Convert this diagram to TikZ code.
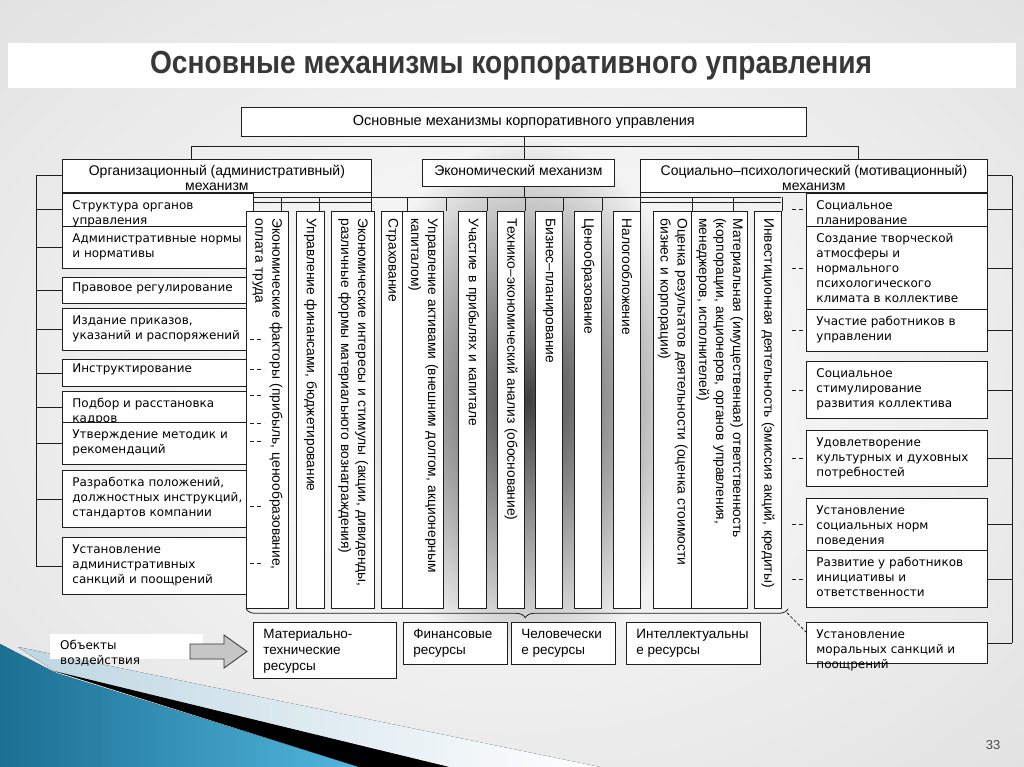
\documentclass[tikz,border=0pt]{standalone}
\usepackage{fontspec}
\usetikzlibrary{calc,decorations.pathreplacing,fadings}
\newfontfamily\dv{DejaVu Sans}
\newfontfamily\ls{Liberation Sans}
\newfontfamily\tf[FakeStretch=0.88]{Liberation Sans}
\definecolor{ln}{HTML}{1E1E1E}
\definecolor{tealA}{HTML}{1B6F92}
\definecolor{tealB}{HTML}{52B6DE}
\definecolor{paleB}{HTML}{BDD6E2}
\definecolor{titlec}{HTML}{383838}
\tikzfading[name=softblob, inner color=transparent!0, outer color=transparent!100]
\newcommand\fL{\dv\fontsize{12}{15}\selectfont}
\newcommand\fM{\ls\fontsize{14}{15}\selectfont}
\newcommand\fT{\ls\fontsize{14.5}{16}\selectfont}
\newcommand\fC{\ls\fontsize{13.8}{17}\selectfont}
\newcommand\fB{\ls\fontsize{13.5}{16}\selectfont}
\newcommand\Lp[1][6pt]{\vspace*{#1}\leftskip=10pt\rightskip=0pt plus 1fill\parindent=0pt\strut}
\newcommand\Cp[1][6pt]{\vspace*{#1}\centering\strut}
\newcommand\bx[7]{\node[bxs,font=#6] (#1) at (#2,#3) {\parbox[t][#5pt][t]{#4pt}{#7}};}
\newcommand\col[4]{\node[colst, minimum height=#3pt] (#1) at (#2,211) {#4};}
\pgfdeclarelayer{back}
\pgfdeclarelayer{conn}
\pgfsetlayers{back,conn,main}
\tikzset{
  bxs/.style={draw=ln, line width=0.8pt, fill=white, inner sep=0pt, anchor=north west},
  colst/.style={draw=ln, line width=0.8pt, fill=white, rotate=-90, anchor=north west,
    inner xsep=7pt, inner ysep=0pt, align=left, text width=383pt, font=\fC},
  conn/.style={draw=ln, line width=0.8pt},
  dmark/.style={draw=ln, line width=0.8pt, dash pattern=on 4pt off 3pt},
}
\begin{document}
\begin{tikzpicture}[x=1pt, y=-1pt]
\useasboundingbox (0,0) rectangle (1024,767);

% ---------- title ----------
\fill[white] (8,43) rectangle (1016,88);
\node[font=\tf\bfseries\fontsize{32}{36}\selectfont, text=titlec] (title) at (511,66)
  {Основные механизмы корпоративного управления};

% ---------- top boxes ----------
\bx{T0}{241}{107}{565}{29}{\fT}{\Cp[7pt]Основные механизмы корпоративного управления}
\bx{M1}{62}{159}{309}{33}{\fM}{\Cp[6pt]Организационный (административный)\\механизм}
\bx{M2}{422}{159}{192}{27}{\fM}{\Cp[6pt]Экономический механизм}
\bx{M3}{640}{159}{347}{33}{\fM}{\Cp[6pt]Социально–психологический (мотивационный)\\механизм}

% ---------- left boxes ----------
\bx{L1}{62}{193}{191}{33}{\fL}{\Lp Структура органов\\управления}
\bx{L2}{62}{226}{191}{42}{\fL}{\Lp Административные нормы\\и нормативы}
\bx{L3}{62}{277}{191}{26}{\fL}{\Lp[4pt]Правовое регулирование}
\bx{L4}{62}{308}{191}{42}{\fL}{\Lp Издание приказов,\\указаний и распоряжений}
\bx{L5}{62}{359}{191}{27}{\fL}{\Lp[3pt]Инструктирование}
\bx{L6}{62}{391}{191}{31}{\fL}{\Lp Подбор и расстановка\\кадров}
\bx{L7}{62}{422}{191}{42}{\fL}{\Lp Утверждение методик и\\рекомендаций}
\bx{L8}{62}{470}{191}{57}{\fL}{\Lp Разработка положений,\\должностных инструкций,\\стандартов компании}
\bx{L9}{62}{537}{191}{57}{\fL}{\Lp Установление\\административных\\санкций и поощрений}

% ---------- right boxes ----------
\bx{R1}{806}{193}{181}{33}{\fL}{\Lp Социальное\\планирование}
\bx{R2}{806}{226}{181}{83}{\fL}{\Lp Создание творческой\\атмосферы и\\нормального\\психологического\\климата в коллективе}
\bx{R3}{806}{309}{181}{42}{\fL}{\Lp Участие работников в\\управлении}
\bx{R4}{806}{361}{181}{57}{\fL}{\Lp Социальное\\стимулирование\\развития коллектива}
\bx{R5}{806}{430}{181}{56}{\fL}{\Lp Удовлетворение\\культурных и духовных\\потребностей}
\bx{R6}{806}{498}{181}{52}{\fL}{\Lp Установление\\социальных норм\\поведения}
\bx{R7}{806}{550}{181}{57}{\fL}{\Lp Развитие у работников\\инициативы и\\ответственности}
\bx{R8}{806}{622}{181}{41}{\fL}{\Lp Установление\\моральных санкций и\\поощрений}

% ---------- vertical columns ----------
\col{C1}{289}{42}{Экономические факторы (прибыль, ценообразование,\\оплата труда}
\col{C2}{325}{28}{Управление финансами, бюджетирование}
\col{C3}{375}{43}{Экономические интересы и стимулы (акции, дивиденды,\\различные формы материального вознаграждения)}
\col{C4}{403}{21}{Страхование}
\col{C5}{444}{41}{Управление активами (внешним долгом, акционерным\\капиталом)}
\col{C6}{487}{28}{Участие в прибылях и капитале}
\col{C7}{525}{27}{Технико–экономический анализ (обоснование)}
\col{C8}{563}{27}{Бизнес–планирование}
\col{C9}{602}{27}{Ценообразование}
\col{C10}{641}{27}{Налогообложение}
\col{C11}{692}{38}{Оценка результатов деятельности (оценка стоимости\\бизнес и корпорации)}
\col{C12}{748}{56}{Материальная (имущественная) ответственность\\(корпорации, акционеров, органов управления,\\менеджеров, исполнителей)}
\col{C13}{782}{27}{Инвестиционная деятельность (эмиссия акций, кредиты)}

% ---------- resources ----------
\bx{B1}{253}{622}{143}{56}{\fB}{\Lp[5pt]Материально-\\технические\\ресурсы}
\bx{B2}{403}{622}{104}{42}{\fB}{\Lp[5pt]Финансовые\\ресурсы}
\bx{B3}{511}{622}{104}{42}{\fB}{\Lp[5pt]Человечески\\е ресурсы}
\bx{B4}{626}{622}{134}{42}{\fB}{\Lp[5pt]Интеллектуальны\\е ресурсы}

\node[fill=white, inner sep=0pt, anchor=north west, font=\fL] (obj) at (50,634)
  {\parbox[t][25pt][t]{153pt}{\Lp[5pt]Объекты\\воздействия}};
\draw[fill=gray!45, draw=gray!40!black, line width=0.8pt]
  (190,644) -- (224,644) -- (224,635) -- (247,651.5) -- (224,668) -- (224,659) -- (190,659) -- cycle;

\node[font=\ls\fontsize{13}{15}\selectfont, text=gray!60!black] (pg) at (993,745) {33};

% ---------- marks on top ----------
\foreach \yy in {339,369,395,423,441,506,563} \draw[dmark] (250,\yy) -- (264,\yy);
\foreach \n in {R1,R2,R3,R4,R5,R6,R7} \draw[dmark] ($(\n.west)+(-14,0)$) -- (\n.west);
\draw[conn, decorate, decoration={brace, mirror, amplitude=9pt, aspect=0.515}]
  (C1.south east) -- ($(C13.north east)+(6,0)$);
\draw[conn, dash pattern=on 3pt off 2pt] ($(C13.north east)+(5,4)$) -- ([yshift=-10pt]R8.north west);

% ---------- connectors ----------
\begin{pgfonlayer}{conn}
\draw[conn] (T0.south) -- (T0.south |- M2.north);
\coordinate (tbL) at (191,146);
\coordinate (tbR) at (858,146);
\draw[conn] (tbL |- M1.north) -- (tbL) -- (tbR) -- (tbR |- M3.north);
\coordinate (cbL) at (254,197);
\coordinate (cbR) at (781,197);
\draw[conn] (T0.south |- M2.south) -- (T0.south |- cbL);
\draw[conn] (cbL) -- (cbR);
\draw[conn] (254,202) -- (371,202);
\draw[conn] (640,202) -- (781,202);
\draw[conn] (M1.south east) -- (M1.south east |- C3.north west);
\draw[conn] (M3.south west) -- (M3.south west |- C10.north west);
\foreach \n/\a/\s in {C1/south west/7, C1/north west/-8, C2/north west/-6, C5/south west/5,
    C5/north west/2, C6/north west/0, C7/north west/0, C8/north west/0, C9/north west/0,
    C11/north west/0, C12/north west/-15, C13/north west/0}{
  \coordinate (tk) at ($(\n.\a)+(\s,0)$);
  \draw[conn] (tk) -- (tk |- cbL);
}
\coordinate (lbx) at (36,0);
\draw[conn] (lbx |- M1.west) -- (lbx |- L9.west);
\foreach \n in {M1,L1,L2,L3,L4,L5,L6,L7,L8,L9} \draw[conn] (lbx |- \n.west) -- (\n.west);
\coordinate (rbx) at (1012,0);
\draw[conn] (rbx |- M3.east) -- (rbx |- R8.east);
\foreach \n in {M3,R1,R2,R3,R4,R5,R6,R7,R8} \draw[conn] (\n.east) -- (rbx |- \n.east);
\end{pgfonlayer}

% ---------- background ----------
\begin{pgfonlayer}{back}
\shade[inner color=white, outer color=gray!32] (-512,-383) rectangle (1536,1150);
\fill[black!75, path fading=softblob] (355,140) rectangle (700,660);
\fill[left color=paleB, right color=white] (18,647) -- (600,767) -- (449,767) -- (56,672) -- cycle;
\fill[left color=tealA, right color=tealB] (0,644) -- (56,673) -- (359,767) -- (0,767) -- cycle;
\fill[black] (54,671) -- (449,767) -- (359,767) -- cycle;
\end{pgfonlayer}
\end{tikzpicture}
\end{document}
